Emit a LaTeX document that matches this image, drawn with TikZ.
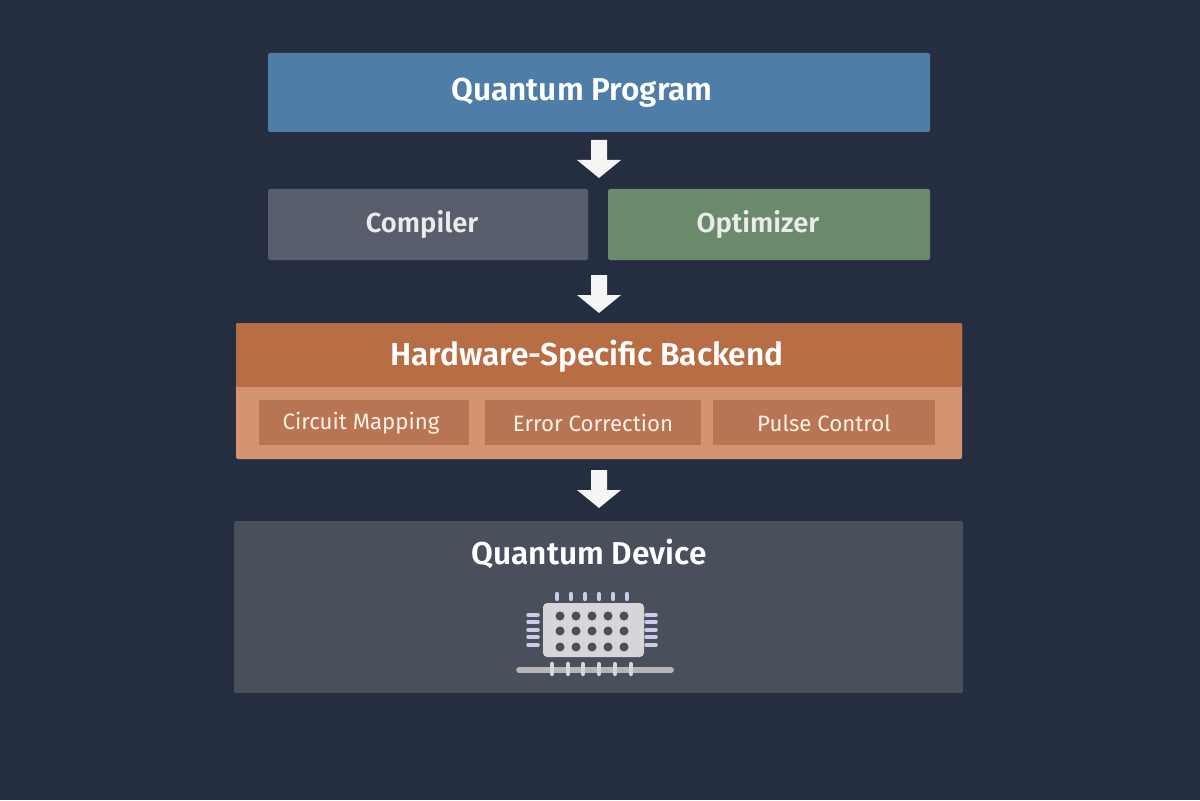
\documentclass[tikz,border=0pt]{standalone}
\usepackage{fontspec}
\setmainfont{Fira Sans}
\newfontfamily\semib{Fira Sans SemiBold}
\begin{document}
\begin{tikzpicture}[x=0.025cm,y=-0.025cm,
  box/.style={draw=none,rounded corners=1.5pt},
  lbl/.style={text=white,font=\semib\fontsize{22.5}{26}\selectfont},
  lbls/.style={text=white!92!black,font=\semib\fontsize{19.5}{23}\selectfont},
  sub/.style={text=white!90!orange,font=\fontsize{15.8}{19}\selectfont},
  arr/.style={fill=white!92!gray,draw=none},
  pin/.style={line width=3pt,line cap=round,draw=white!85!blue!85!gray}]
\definecolor{bg}{HTML}{252E40}
\definecolor{qp}{HTML}{4E7EA8}
\definecolor{comp}{HTML}{585E6C}
\definecolor{opt}{HTML}{6B8A6B}
\definecolor{bkt}{HTML}{B86E45}
\definecolor{bkb}{HTML}{D49470}
\definecolor{bks}{HTML}{B87554}
\definecolor{dev}{HTML}{4A4F5C}
\definecolor{chip}{HTML}{D6D6D8}
\fill[bg] (0,0) rectangle (1200,800);
\useasboundingbox (0,0) rectangle (1200,800);
\fill[box,qp] (268,53) rectangle (930,132);
\node[lbl] (qp) at (582,93) {Quantum Program};
\fill[box,comp] (268,189) rectangle (588,260);
\node[lbls] (c) at (422,225) {Compiler};
\fill[box,opt] (608,189) rectangle (930,260);
\node[lbls] (o) at (758,225) {Optimizer};
\fill[box,bkb] (236,323) rectangle (962,459);
\fill[bkt,rounded corners=1.5pt] (236,387) -- (236,323) -- (962,323) -- (962,387) -- cycle;
\node[lbl] (b) at (587,356) {Hardware-Specific Backend};
\fill[bks] (259,400) rectangle (469,445);
\node[sub] (s1) at (361,423) {Circuit Mapping};
\fill[bks] (485,400) rectangle (701,445);
\node[sub] (s2) at (593,423) {Error Correction};
\fill[bks] (713,400) rectangle (935,445);
\node[sub] (s3) at (824,423) {Pulse Control};
\fill[box,dev] (234,521) rectangle (963,693);
\node[lbl] (d) at (589,554) {Quantum Device};
% arrows
\foreach \y in {140,275,470}{
  \fill[arr] (591,\y) -- (607,\y) -- (607,\y+20) -- (621,\y+20) -- (599,\y+38) -- (577,\y+20) -- (591,\y+20) -- cycle;}
% chip
\foreach \x in {557,571,585,599,613,627} \draw[pin] (\x,594) -- (\x,599);
\foreach \y in {615,622,630,637,645} {\draw[pin,line width=2.5pt] (528,\y) -- (538,\y); \draw[pin,line width=2.5pt] (646,\y) -- (656,\y);}
\draw[line width=4pt,line cap=round,draw=chip!85!black] (519,670) -- (671,670);
\foreach \x in {552,568,583,599,615,631} \draw[pin,draw=chip] (\x,664) -- (\x,674);
\fill[chip,rounded corners=3pt] (543,603) rectangle (644,657);
\foreach \x in {560,576,592,608,624} \foreach \y in {616,631,647} \fill[dev] (\x,\y) circle (4.5);
\end{tikzpicture}
\end{document}
